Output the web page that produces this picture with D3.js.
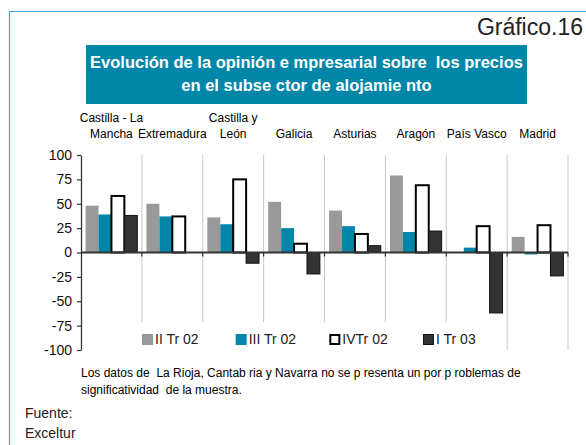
<!DOCTYPE html>
<html>
<head>
<meta charset="utf-8">
<script src="https://cdn.jsdelivr.net/npm/d3@7"></script>
<style>
body{margin:0;background:#fff;}
svg text{font-family:"Liberation Sans", Arial, sans-serif;}
</style>
</head>
<body>
<div id="chart"></div>
<script>
// datos
var regiones = ["Castilla - La Mancha", "Extremadura", "Castilla y León", "Galicia", "Asturias", "Aragón", "País Vasco", "Madrid"];
var etiquetas = [["Castilla - La", "Mancha"], ["", "Extremadura"], ["Castilla y", "León"], ["", "Galicia"], ["", "Asturias"], ["", "Aragón"], ["", "País Vasco"], ["", "Madrid"]];
var trimestres = ["II Tr 02", "III Tr 02", "IVTr 02", "I Tr 03"];
var iiTr02 = [48, 50, 36, 52, 43, 79, null, 16];
var iiiTr02 = [39, 37, 29, 25, 27, 21, 5, -2];
var ivTr02 = [58, 37, 75, 9, 19, 69, 27, 28];
var iTr03 = [38, null, -11, -22, 7, 22, -62, -24];
var yTicks = [-100, -75, -50, -25, 0, 25, 50, 75, 100];

var valores = [iiTr02, iiiTr02, ivTr02, iTr03];
var colores = ["#999999", "#0086a8", "#ffffff", "#333333"];
var bordes = ["none", "none", "#000", "#111"];
var grosor = [0, 0, 2, 1];

var width = 586, height = 445;

var svg = d3.select("#chart").append("svg")
    .attr("width", width)
    .attr("height", height);

// marco
svg.append("path")
    .attr("d", "M9.5," + height + "V11.5H" + width)
    .attr("fill", "none")
    .attr("stroke", "#4a9cd6")
    .attr("stroke-width", 1.2);

svg.append("text")
    .attr("x", 583).attr("y", 35)
    .attr("text-anchor", "end")
    .style("font-size", "23px")
    .attr("fill", "#222")
    .text("Gráfico.16");

// titulo
svg.append("rect")
    .attr("x", 86).attr("y", 45)
    .attr("width", 441).attr("height", 59)
    .attr("fill", "#0086a9");

var tituloLineas = ["Evolución de la opinión e mpresarial sobre  los precios", "en el subse ctor de alojamie nto"];
svg.selectAll(".titulo").data(tituloLineas).enter().append("text")
    .attr("class", "titulo")
    .attr("x", 306.5)
    .attr("y", function(d, i){ return 68 + i * 23; })
    .attr("text-anchor", "middle")
    .attr("fill", "#fff")
    .style("font-size", "16.5px")
    .style("font-weight", "bold")
    .style("white-space", "pre")
    .text(function(d){ return d; });

// escalas
var x = d3.scaleBand().domain(regiones).range([81, 568]);
var bw = x.bandwidth();
var x1 = d3.scaleBand().domain(trimestres).range([4.6, bw - 4.6]);
var y = d3.scaleLinear().domain([-100, 100]).range([350, 155]);

// lineas verticales entre grupos
var cortes = regiones.slice(1).map(function(d){ return x(d); });
cortes.push(x(regiones[regiones.length - 1]) + bw);

svg.selectAll(".grid").data(cortes).enter().append("line")
    .attr("class", "grid")
    .attr("x1", function(d){ return d; })
    .attr("x2", function(d){ return d; })
    .attr("y1", y(100))
    .attr("y2", y(-100))
    .attr("stroke", "#c8c8c8")
    .attr("stroke-width", 1);

// etiquetas de regiones
etiquetas.forEach(function(lin, i){
    lin.forEach(function(t, j){
        if (t == "") return;
        svg.append("text")
            .attr("x", x(regiones[i]) + bw / 2)
            .attr("y", 122 + j * 16)
            .attr("text-anchor", "middle")
            .style("font-size", "12px")
            .attr("fill", "#000")
            .text(t);
    });
});

// barras
var barras = [];
for (var s = 0; s < trimestres.length; s++){
    for (var r = 0; r < regiones.length; r++){
        if (valores[s][r] == null) continue;
        barras.push({reg: regiones[r], tri: trimestres[s], v: valores[s][r], s: s});
    }
}

svg.selectAll(".bar").data(barras).enter().append("rect")
    .attr("class", "bar")
    .attr("x", function(d){ return x(d.reg) + x1(d.tri); })
    .attr("width", x1.bandwidth())
    .attr("y", function(d){ return y(Math.max(0, d.v)); })
    .attr("height", function(d){ return Math.abs(y(d.v) - y(0)); })
    .attr("fill", function(d){ return colores[d.s]; })
    .attr("stroke", function(d){ return bordes[d.s]; })
    .attr("stroke-width", function(d){ return grosor[d.s]; });

// eje cero
svg.append("line")
    .attr("x1", 81).attr("x2", 568)
    .attr("y1", y(0)).attr("y2", y(0))
    .attr("stroke", "#333")
    .attr("stroke-width", 2);

svg.selectAll(".xtick").data(cortes).enter().append("line")
    .attr("class", "xtick")
    .attr("x1", function(d){ return d; })
    .attr("x2", function(d){ return d; })
    .attr("y1", y(0))
    .attr("y2", y(0) + 4)
    .attr("stroke", "#333")
    .attr("stroke-width", 1.2);

// eje y (guion normal, no signo menos)
var yAxis = d3.axisLeft(y).tickValues(yTicks).tickSize(4).tickSizeOuter(0).tickPadding(5)
    .tickFormat(function(d){ return String(d); });
var gy = svg.append("g")
    .attr("transform", "translate(81,0)")
    .call(yAxis);
gy.select(".domain").attr("stroke", "#333").attr("stroke-width", 1.3);
gy.selectAll(".tick line").attr("stroke", "#333").attr("stroke-width", 1.2);
gy.selectAll(".tick text")
    .style("font-size", "14px")
    .style("font-family", "'Liberation Sans', Arial, sans-serif")
    .attr("fill", "#111");

// leyenda
svg.append("rect")
    .attr("x", 135).attr("y", 322)
    .attr("width", 362).attr("height", 30)
    .attr("fill", "#fff");

var legX = d3.scalePoint().domain(trimestres).range([142, 423]);
var leg = svg.selectAll(".leg").data(trimestres).enter().append("g")
    .attr("class", "leg")
    .attr("transform", function(d){ return "translate(" + legX(d) + ",334)"; });

leg.append("rect")
    .attr("x", function(d, i){ return grosor[i] / 2; })
    .attr("y", function(d, i){ return grosor[i] / 2; })
    .attr("width", function(d, i){ return 11 - grosor[i]; })
    .attr("height", function(d, i){ return 11 - grosor[i]; })
    .attr("fill", function(d, i){ return colores[i]; })
    .attr("stroke", function(d, i){ return bordes[i]; })
    .attr("stroke-width", function(d, i){ return grosor[i]; });

leg.append("text")
    .attr("x", 13)
    .attr("y", 10)
    .style("font-size", "14px")
    .attr("fill", "#222")
    .text(function(d){ return d; });

// notas
var nota = ["Los datos de  La Rioja, Cantab ria y Navarra no se p resenta un por p roblemas de", "significatividad  de la muestra."];
svg.selectAll(".nota").data(nota).enter().append("text")
    .attr("class", "nota")
    .attr("x", 81)
    .attr("y", function(d, i){ return 377 + i * 17; })
    .style("font-size", "12px")
    .style("white-space", "pre")
    .attr("fill", "#000")
    .text(function(d){ return d; });

var fuente = ["Fuente:", "Exceltur"];
svg.selectAll(".fuente").data(fuente).enter().append("text")
    .attr("class", "fuente")
    .attr("x", 25)
    .attr("y", function(d, i){ return 418 + i * 20; })
    .style("font-size", "14px")
    .attr("fill", "#222")
    .text(function(d){ return d; });
</script>
</body>
</html>
